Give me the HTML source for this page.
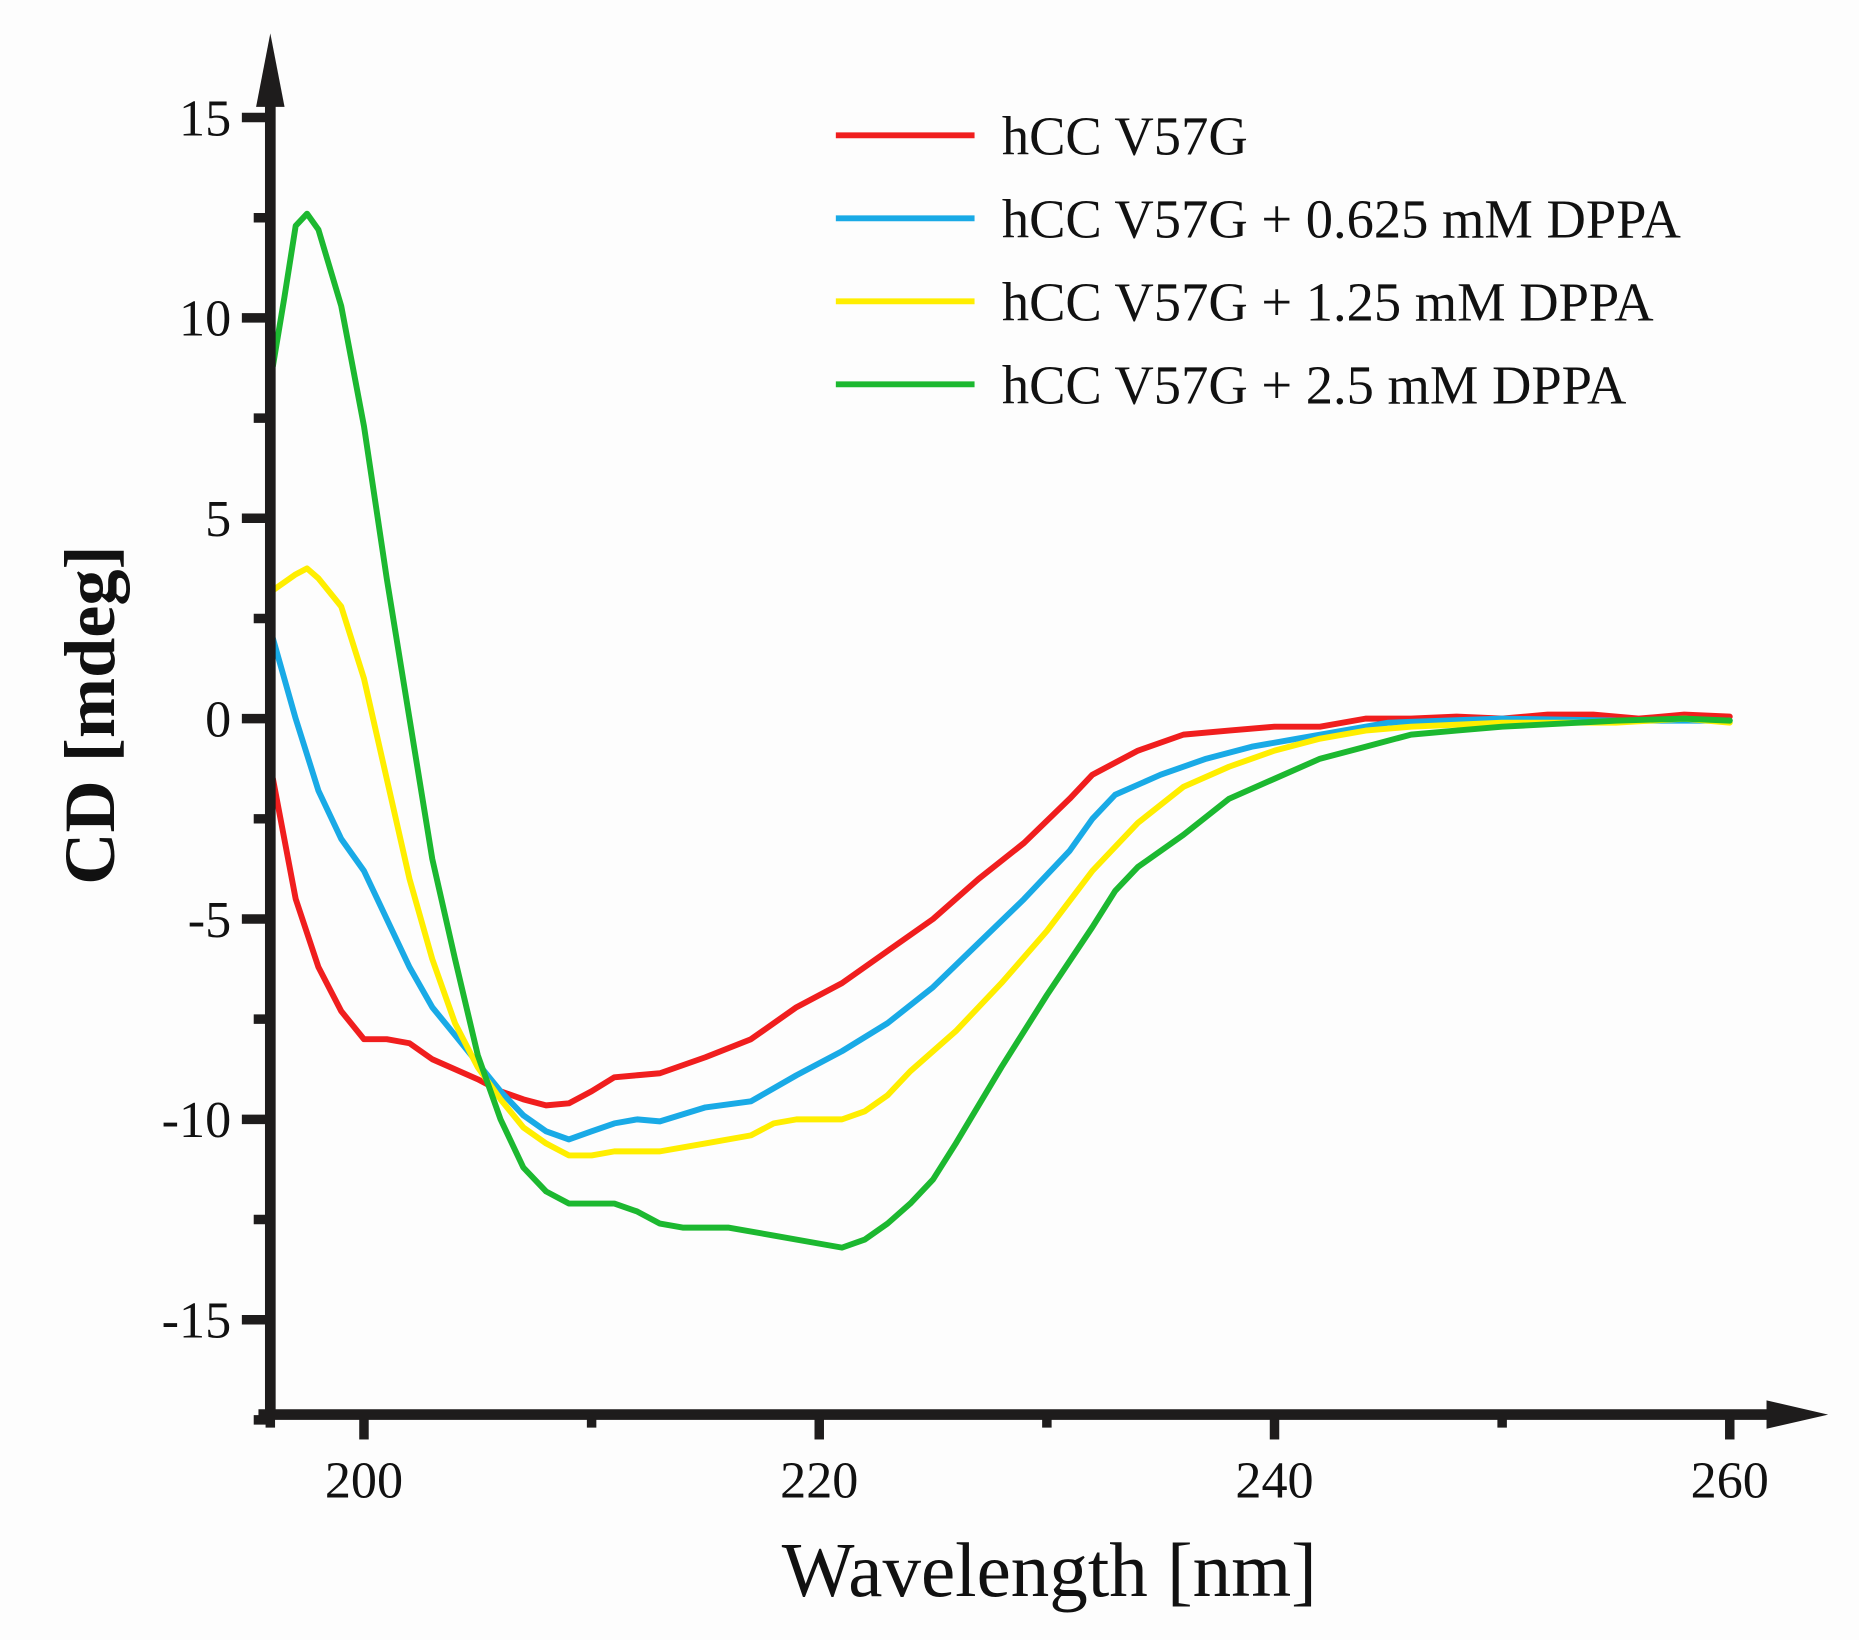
<!DOCTYPE html>
<html><head><meta charset="utf-8"><style>
html,body{margin:0;padding:0;background:#fdfdfd;}
svg{display:block;}
text{font-family:"Liberation Serif",serif;fill:#111;}
</style></head><body>
<svg id="s" width="1859" height="1640" viewBox="0 0 1568 1383" xmlns="http://www.w3.org/2000/svg">
<rect width="1568" height="1383" fill="#fdfdfd"/>
<g id="curves" fill="none" stroke-width="5" stroke-linejoin="round" stroke-linecap="round"></g>
<g fill="#1e1c1c" stroke="#1e1c1c">
<line x1="228" y1="70" x2="228" y2="1197" stroke-width="9"/>
<polygon points="228,28 216,90 240,90" stroke="none"/>
<line x1="218" y1="1193" x2="1500" y2="1193" stroke-width="9"/>
<polygon points="1542,1193 1490,1181 1490,1205" stroke="none"/>
</g>
<g id="ticks" stroke="#1e1c1c" stroke-width="8"></g>
<g font-size="44" text-anchor="end" id="ylab"></g>
<g font-size="44" text-anchor="middle" id="xlab"></g>
<text x="0" y="0" font-size="61" font-weight="bold" text-anchor="middle" transform="translate(96,603) rotate(-90)">CD [mdeg]</text>
<text x="885" y="1346" font-size="65" text-anchor="middle">Wavelength [nm]</text>
<g stroke-width="5">
<line x1="705" y1="114" x2="822" y2="114" stroke="#f01e1e"/>
<line x1="705" y1="184" x2="822" y2="184" stroke="#19aae6"/>
<line x1="705" y1="254" x2="822" y2="254" stroke="#ffee00"/>
<line x1="705" y1="324" x2="822" y2="324" stroke="#1cb830"/>
</g>
<g font-size="46">
<text x="845" y="130">hCC V57G</text>
<text x="845" y="200">hCC V57G + 0.625 mM DPPA</text>
<text x="845" y="270">hCC V57G + 1.25 mM DPPA</text>
<text x="845" y="340">hCC V57G + 2.5 mM DPPA</text>
</g>
</svg>
<script>
var NS="http://www.w3.org/2000/svg";
function X(n){return 307+(n-200)*19.2;}
function Y(v){return 606-v*33.8;}
function el(p,t,a,txt){var e=document.createElementNS(NS,t);for(var k in a)e.setAttribute(k,a[k]);if(txt!==undefined)e.textContent=txt;document.getElementById(p).appendChild(e);}
for(var v=-17.5;v<=15.01;v+=2.5){var maj=Math.abs(v%5)<0.01;el("ticks","line",{x1:maj?204:214,y1:Y(v),x2:228,y2:Y(v)});
if(maj)el("ylab","text",{x:195,y:Y(v)+15},String(v));}
for(var n=200;n<=260;n+=10){var maj=n%20==0;el("ticks","line",{x1:X(n),y1:1193,x2:X(n),y2:maj?1214:1204});
if(maj)el("xlab","text",{x:X(n),y:1263},String(n));}
el("ticks","line",{x1:228,y1:1193,x2:228,y2:1204});
var D={
"#f01e1e":[[196,-1.5],[197,-4.5],[198,-6.2],[199,-7.3],[200,-8.0],[201,-8.0],[202,-8.1],[203,-8.5],[205,-9.0],[206,-9.3],[207,-9.5],[208,-9.65],[209,-9.6],[210,-9.3],[211,-8.95],[212,-8.9],[213,-8.85],[215,-8.45],[217,-8.0],[219,-7.2],[221,-6.6],[223,-5.8],[225,-5.0],[227,-4.0],[229,-3.1],[231,-2.0],[232,-1.4],[234,-0.8],[236,-0.4],[238,-0.3],[240,-0.2],[242,-0.2],[244,0],[246,0],[248,0.05],[250,0],[252,0.1],[254,0.1],[256,0],[258,0.1],[260,0.05]],
"#19aae6":[[196,2.0],[197,0],[198,-1.8],[199,-3.0],[200,-3.8],[201,-5.0],[202,-6.2],[203,-7.2],[204,-7.9],[205,-8.6],[206,-9.3],[207,-9.9],[208,-10.3],[209,-10.5],[210,-10.3],[211,-10.1],[212,-10.0],[213,-10.05],[215,-9.7],[217,-9.55],[219,-8.9],[221,-8.3],[223,-7.6],[225,-6.7],[227,-5.6],[229,-4.5],[231,-3.3],[232,-2.5],[233,-1.9],[235,-1.4],[237,-1.0],[239,-0.7],[241,-0.5],[243,-0.3],[245,-0.1],[250,0],[255,-0.05],[260,-0.05]],
"#ffee00":[[196,3.2],[197,3.6],[197.5,3.75],[198,3.5],[199,2.8],[200,1.0],[201,-1.5],[202,-4.0],[203,-6.0],[204,-7.6],[205,-8.7],[206,-9.5],[207,-10.2],[208,-10.6],[209,-10.9],[210,-10.9],[211,-10.8],[213,-10.8],[215,-10.6],[217,-10.4],[218,-10.1],[219,-10.0],[221,-10.0],[222,-9.8],[223,-9.4],[224,-8.8],[226,-7.8],[228,-6.6],[230,-5.3],[232,-3.8],[234,-2.6],[236,-1.7],[238,-1.2],[240,-0.8],[242,-0.5],[244,-0.3],[246,-0.2],[250,-0.1],[255,-0.1],[258,0],[260,-0.1]],
"#1cb830":[[196,8.8],[196.5,10.5],[197,12.3],[197.5,12.6],[198,12.2],[199,10.3],[200,7.3],[201,3.5],[202,0],[203,-3.5],[204,-6.0],[205,-8.4],[206,-10.0],[207,-11.2],[208,-11.8],[209,-12.1],[210,-12.1],[211,-12.1],[212,-12.3],[213,-12.6],[214,-12.7],[216,-12.7],[218,-12.9],[220,-13.1],[221,-13.2],[222,-13.0],[223,-12.6],[224,-12.1],[225,-11.5],[226,-10.6],[228,-8.7],[230,-6.9],[232,-5.2],[233,-4.3],[234,-3.7],[236,-2.9],[238,-2.0],[240,-1.5],[242,-1.0],[244,-0.7],[246,-0.4],[248,-0.3],[250,-0.2],[255,-0.05],[258,0],[260,-0.05]]};
for(var c in D){var pts=D[c].map(function(p){return X(p[0]).toFixed(1)+","+Y(p[1]).toFixed(1);}).join(" ");
el("curves","polyline",{points:pts,stroke:c});}
</script>
</body></html>
